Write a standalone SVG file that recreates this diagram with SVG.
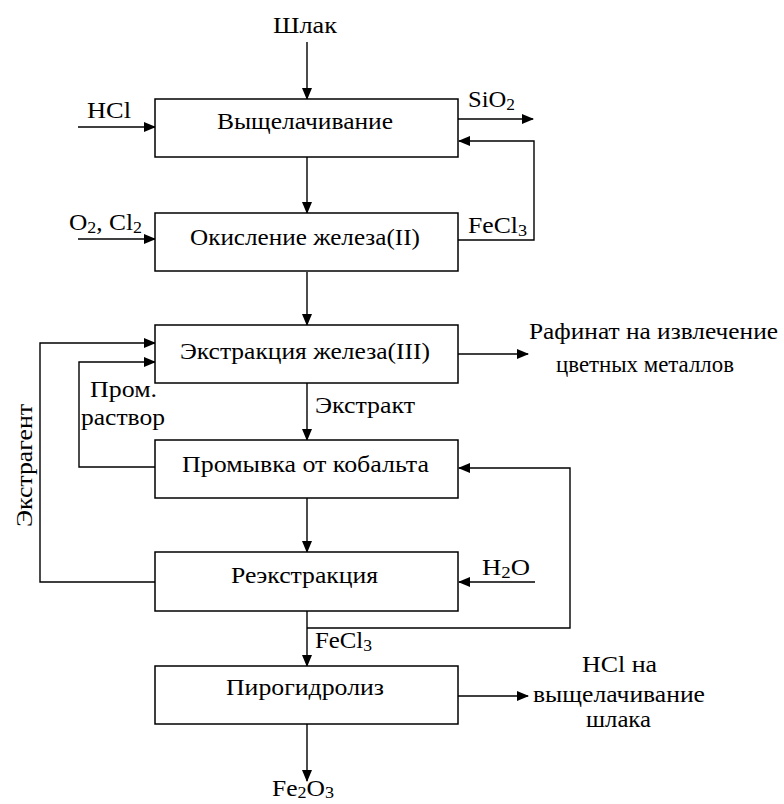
<svg xmlns="http://www.w3.org/2000/svg" width="784" height="804" viewBox="0 0 784 804">
<style>
.box{fill:#fff;stroke:#000;stroke-width:1.5}
.ln{fill:none;stroke:#000;stroke-width:1.4}
.ar{marker-end:url(#ah)}
text{font-family:"Liberation Serif","Times New Roman",serif;font-size:24px;fill:#000}
.sub{font-size:17px}
</style>
<defs>
<marker id="ah" markerUnits="userSpaceOnUse" markerWidth="12" markerHeight="10" refX="11" refY="5" orient="auto">
<path d="M0,0 L12,5 L0,10 Z" fill="#000"/>
</marker>
</defs>
<rect width="784" height="804" fill="#fff"/>
<g id="connectors">
<path class="ln ar" d="M307,42 V99"/>
<path class="ln ar" d="M78,127 H155"/>
<path class="ln ar" d="M458,119 H533"/>
<path class="ln ar" d="M458,240 H534 V141 H459"/>
<path class="ln ar" d="M307,157 V213"/>
<path class="ln ar" d="M78,239 H155"/>
<path class="ln ar" d="M307,272 V325"/>
<path class="ln ar" d="M458,354 H528"/>
<path class="ln ar" d="M155,582 H40 V343 H155"/>
<path class="ln ar" d="M155,467 H79 V362 H155"/>
<path class="ln ar" d="M307,383 V440"/>
<path class="ln ar" d="M307,498 V552"/>
<path class="ln ar" d="M535,582 H459"/>
<path class="ln ar" d="M307,611 V666"/>
<path class="ln ar" d="M307,628 H570 V468 H459"/>
<path class="ln ar" d="M458,696 H528"/>
<path class="ln ar" d="M307,724 V781"/>
</g>
<g id="labels">
<text x="273" y="33" textLength="64" lengthAdjust="spacingAndGlyphs">Шлак</text>
<text x="87" y="118" textLength="44" lengthAdjust="spacingAndGlyphs">HCl</text>
<text x="468" y="107" textLength="47" lengthAdjust="spacingAndGlyphs">SiO<tspan class="sub" dy="3">2</tspan></text>
<text x="69" y="230" textLength="73" lengthAdjust="spacingAndGlyphs">O<tspan class="sub" dy="3">2</tspan><tspan dy="-3">, Cl</tspan><tspan class="sub" dy="3">2</tspan></text>
<text x="468" y="233" textLength="59" lengthAdjust="spacingAndGlyphs">FeCl<tspan class="sub" dy="3">3</tspan></text>
<text x="529" y="339" textLength="249" lengthAdjust="spacingAndGlyphs">Рафинат на извлечение</text>
<text x="556" y="372" textLength="178" lengthAdjust="spacingAndGlyphs">цветных металлов</text>
<text x="90" y="397" textLength="67" lengthAdjust="spacingAndGlyphs">Пром.</text>
<text x="81" y="425" textLength="84" lengthAdjust="spacingAndGlyphs">раствор</text>
<text x="315" y="413" textLength="100" lengthAdjust="spacingAndGlyphs">Экстракт</text>
<text transform="translate(32,527) rotate(-90)" x="0" y="0" textLength="123" lengthAdjust="spacingAndGlyphs">Экстрагент</text>
<text x="482" y="575" textLength="48" lengthAdjust="spacingAndGlyphs">H<tspan class="sub" dy="3">2</tspan><tspan dy="-3">O</tspan></text>
<text x="315" y="648" textLength="57" lengthAdjust="spacingAndGlyphs">FeCl<tspan class="sub" dy="3">3</tspan></text>
<text x="582" y="672" textLength="75" lengthAdjust="spacingAndGlyphs">HCl на</text>
<text x="533" y="702" textLength="172" lengthAdjust="spacingAndGlyphs">выщелачивание</text>
<text x="586" y="727" textLength="65" lengthAdjust="spacingAndGlyphs">шлака</text>
<text x="272" y="796" textLength="62" lengthAdjust="spacingAndGlyphs">Fe<tspan class="sub" dy="2">2</tspan><tspan dy="-2">O</tspan><tspan class="sub" dy="2">3</tspan></text>
</g>
<g id="n1">
<rect class="box" x="155" y="99" width="303" height="58"/>
<text x="217" y="129" textLength="176" lengthAdjust="spacingAndGlyphs">Выщелачивание</text>
</g>
<g id="n2">
<rect class="box" x="155" y="213" width="303" height="58"/>
<text x="190" y="245" textLength="230" lengthAdjust="spacingAndGlyphs">Окисление железа(II)</text>
</g>
<g id="n3">
<rect class="box" x="155" y="325" width="303" height="58"/>
<text x="180" y="359" textLength="250" lengthAdjust="spacingAndGlyphs">Экстракция железа(III)</text>
</g>
<g id="n4">
<rect class="box" x="155" y="440" width="303" height="58"/>
<text x="182" y="472" textLength="247" lengthAdjust="spacingAndGlyphs">Промывка от кобальта</text>
</g>
<g id="n5">
<rect class="box" x="155" y="552" width="303" height="59"/>
<text x="231" y="583" textLength="147" lengthAdjust="spacingAndGlyphs">Реэкстракция</text>
</g>
<g id="n6">
<rect class="box" x="155" y="666" width="303" height="58"/>
<text x="226" y="695" textLength="158" lengthAdjust="spacingAndGlyphs">Пирогидролиз</text>
</g>
</svg>
